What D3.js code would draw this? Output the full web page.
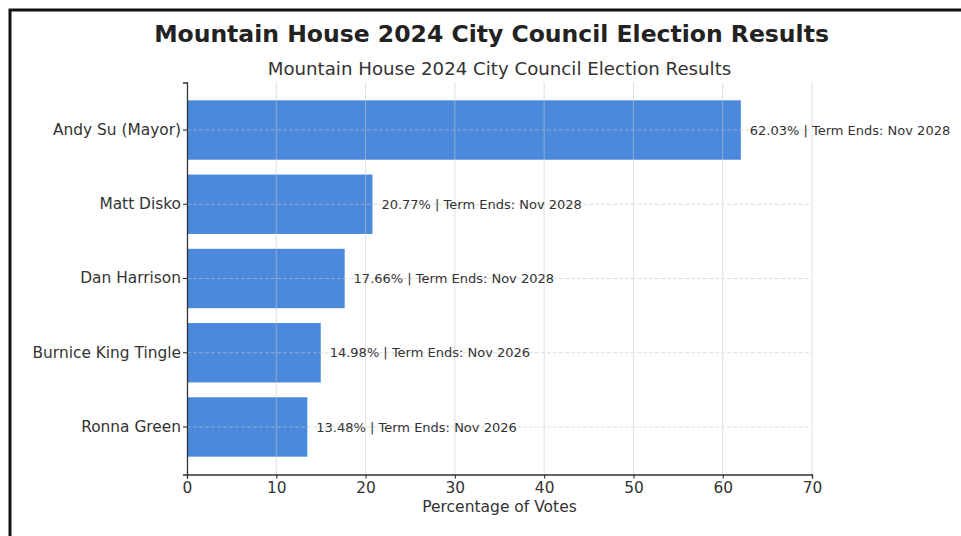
<!DOCTYPE html>
<html>
<head>
<meta charset="utf-8">
<script src="https://cdn.jsdelivr.net/npm/d3@7"></script>
<style>
  html, body { margin: 0; padding: 0; background: #fff; }
  svg { display: block; font-family: "DejaVu Sans", sans-serif; }
</style>
</head>
<body>
<svg id="chart" width="961" height="536"></svg>
<script>
// Candidates, vote share (%) and term end dates
const candidates = ["Andy Su (Mayor)", "Matt Disko", "Dan Harrison", "Burnice King Tingle", "Ronna Green"];
const votePct = [62.03, 20.77, 17.66, 14.98, 13.48];
const termEnds = ["Nov 2028", "Nov 2028", "Nov 2028", "Nov 2026", "Nov 2026"];
const xTicks = [0, 10, 20, 30, 40, 50, 60, 70];

const rows = candidates.map((c, i) => ({ name: c, pct: votePct[i], term: termEnds[i] }));

const svg = d3.select("#chart");
const W = 961, H = 536;
const plot = { left: 187, right: 812, top: 82.5, bottom: 474.5 };

// Frame around the figure
svg.append("path")
  .attr("d", `M10,${H + 5} L10,10 L${W + 5},10`)
  .attr("fill", "none").attr("stroke", "#111").attr("stroke-width", 3);

const x = d3.scaleLinear().domain([0, 70]).range([plot.left, plot.right]);
const y = d3.scaleBand().domain(candidates).range([plot.top, plot.bottom])
  .paddingInner(0.2).paddingOuter(0.24);

// Bars
svg.append("g").selectAll("rect").data(rows).join("rect")
  .attr("x", x(0))
  .attr("y", d => y(d.name))
  .attr("width", d => x(d.pct) - x(0))
  .attr("height", y.bandwidth())
  .attr("fill", "#4a89dc");

// Grid lines (drawn over the bars, faint)
const grid = svg.append("g").attr("opacity", 0.55);
grid.selectAll("line.v").data(xTicks.slice(1)).join("line")
  .attr("class", "v")
  .attr("x1", d => x(d)).attr("x2", d => x(d))
  .attr("y1", plot.top).attr("y2", plot.bottom)
  .attr("stroke", "#c8c8c8").attr("stroke-width", 1);
grid.selectAll("line.h").data(candidates).join("line")
  .attr("class", "h")
  .attr("x1", plot.left).attr("x2", plot.right)
  .attr("y1", d => y(d) + y.bandwidth() / 2).attr("y2", d => y(d) + y.bandwidth() / 2)
  .attr("stroke", "#c8c8c8").attr("stroke-width", 1).attr("stroke-dasharray", "4,2");

// Axes
const xAxis = svg.append("g")
  .attr("transform", `translate(0,${plot.bottom})`)
  .call(d3.axisBottom(x).tickValues(xTicks).tickSize(4).tickPadding(4).tickFormat(d3.format("d")));
const yAxis = svg.append("g")
  .attr("transform", `translate(${plot.left},0)`)
  .call(d3.axisLeft(y).tickSize(4).tickPadding(2));
[xAxis, yAxis].forEach(a => {
  a.select(".domain").attr("stroke", "#333").attr("stroke-width", 1.3);
  a.selectAll(".tick line").attr("stroke", "#333").attr("stroke-width", 1.1);
  a.selectAll(".tick text").attr("fill", "#333").attr("font-size", 15.4)
    .attr("font-family", "DejaVu Sans, sans-serif");
});

// Value labels
svg.append("g").selectAll("text").data(rows).join("text")
  .attr("x", d => x(d.pct + 1))
  .attr("y", d => y(d.name) + y.bandwidth() / 2)
  .attr("dy", "0.35em")
  .attr("font-size", 13)
  .attr("fill", "#333")
  .text(d => `${d.pct.toFixed(2)}% | Term Ends: ${d.term}`);

// Titles
svg.append("text")
  .attr("x", 491.5).attr("y", 42)
  .attr("text-anchor", "middle")
  .attr("font-size", 23.5).attr("font-weight", "bold").attr("fill", "#222")
  .text("Mountain House 2024 City Council Election Results");
svg.append("text")
  .attr("x", (plot.left + plot.right) / 2).attr("y", 75)
  .attr("text-anchor", "middle")
  .attr("font-size", 18.2).attr("fill", "#333")
  .text("Mountain House 2024 City Council Election Results");

// Axis title
svg.append("text")
  .attr("x", (plot.left + plot.right) / 2).attr("y", 512)
  .attr("text-anchor", "middle")
  .attr("font-size", 15.5).attr("fill", "#333")
  .text("Percentage of Votes");
</script>
</body>
</html>
